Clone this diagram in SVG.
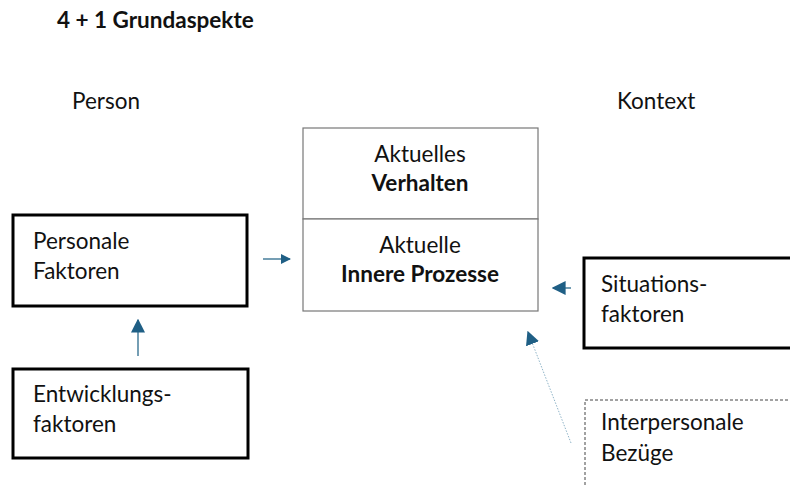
<svg xmlns="http://www.w3.org/2000/svg" width="790" height="485" viewBox="0 0 790 485">
<defs>
<style>
text{font-family:Lato,"Open Sans","Liberation Sans",sans-serif;fill:#111;font-size:22.5px}
.b{font-weight:bold}
.thick{fill:#fff;stroke:#000;stroke-width:3}
.thin{fill:#fff;stroke:#777;stroke-width:1.2}
.conn{stroke:#2a6a8c;stroke-width:1.3;fill:none}
</style>
<marker id="ah" viewBox="0 0 10 10" refX="9" refY="5" markerWidth="10" markerHeight="10" markerUnits="userSpaceOnUse" orient="auto"><path d="M0,0 L10,5 L0,10 z" fill="#1f5f85"/></marker>
<marker id="ah2" viewBox="0 0 10 10" refX="9" refY="5" markerWidth="14" markerHeight="14" markerUnits="userSpaceOnUse" orient="auto"><path d="M0,0 L10,5 L0,10 z" fill="#1f5f85"/></marker>
</defs>
<rect width="790" height="485" fill="#fff"/>
<text x="57" y="28" class="b" style="font-size:22.5px">4 + 1 Grundaspekte</text>
<text x="72" y="109">Person</text>
<text x="617" y="109">Kontext</text>
<g id="central">
<rect x="303" y="128" width="235" height="91" class="thin"/>
<rect x="303" y="219" width="235" height="92" class="thin"/>
<text x="420" y="162" text-anchor="middle">Aktuelles</text>
<text x="420" y="191" text-anchor="middle" class="b">Verhalten</text>
<text x="420" y="253" text-anchor="middle">Aktuelle</text>
<text x="420" y="282" text-anchor="middle" class="b">Innere Prozesse</text>
</g>
<g id="personal">
<rect x="13" y="215" width="234" height="91" class="thick"/>
<text x="33" y="249">Personale</text>
<text x="33" y="279">Faktoren</text>
</g>
<g id="entwicklung">
<rect x="13" y="369" width="235" height="89" class="thick"/>
<text x="33" y="402">Entwicklungs-</text>
<text x="33" y="432">faktoren</text>
</g>
<g id="situation">
<rect x="584" y="258" width="210" height="90" class="thick"/>
<text x="601" y="292">Situations-</text>
<text x="601" y="322">faktoren</text>
</g>
<g id="interpersonal">
<rect x="585" y="400" width="210" height="100" fill="#fff" stroke="#444" stroke-width="1" stroke-dasharray="3,2"/>
<text x="601" y="430">Interpersonale</text>
<text x="601" y="461">Bezüge</text>
</g>
<g id="connectors">
<line x1="263" y1="259" x2="290" y2="259" class="conn" marker-end="url(#ah)"/>
<line x1="138" y1="356" x2="138" y2="320" class="conn" marker-end="url(#ah2)"/>
<line x1="571" y1="288" x2="553" y2="288" class="conn" marker-end="url(#ah2)"/>
<line x1="571" y1="443" x2="528" y2="332" class="conn" style="stroke:#8fb4c8;stroke-width:1;stroke-dasharray:1.5,1.5" marker-end="url(#ah2)"/>
</g>
</svg>
